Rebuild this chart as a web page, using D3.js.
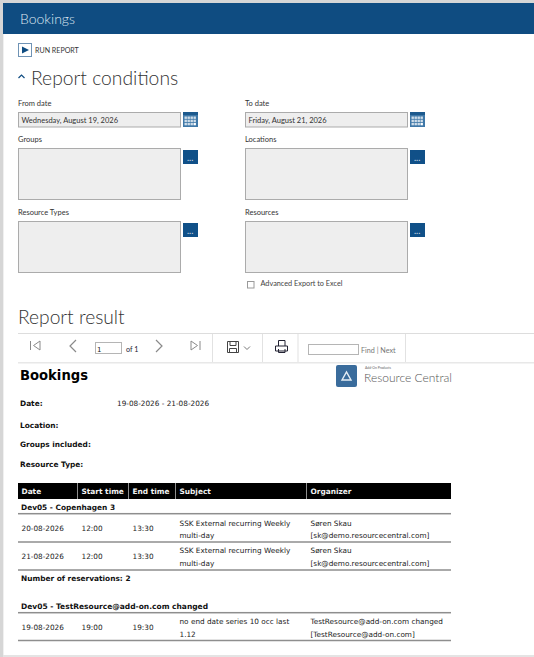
<!DOCTYPE html>
<html>
<head>
<meta charset="utf-8">
<script src="https://d3js.org/d3.v7.min.js"></script>
<style>
  html, body { margin: 0; padding: 0; background: #fff; }
  svg { display: block; }
  .ui { font-family: Lato, "Open Sans", sans-serif; }
  .rep { font-family: "DejaVu Sans", sans-serif; }
</style>
</head>
<body>
<div id="chart_box"></div>
<script>
// values
var pageTitle = "Bookings";
var dateLabels = ["From date", "To date"];
var dateValues = ["Wednesday, August 19, 2026", "Friday, August 21, 2026"];
var listLabels = ["Groups", "Locations", "Resource Types", "Resources"];
var tableColumns = ["Date", "Start time", "End time", "Subject", "Organizer"];
var metaLabels = ["Date:", "Location:", "Groups included:", "Resource Type:"];
var metaValues = ["19-08-2026 - 21-08-2026", "", "", ""];
var group1 = "Dev05 - Copenhagen 3";
var group1Rows = [
    ["20-08-2026", "12:00", "13:30", ["SSK External recurring Weekly", "multi-day"], ["Søren Skau", "[sk@demo.resourcecentral.com]"]],
    ["21-08-2026", "12:00", "13:30", ["SSK External recurring Weekly", "multi-day"], ["Søren Skau", "[sk@demo.resourcecentral.com]"]]
];
var group1Count = "Number of reservations: 2";
var group2 = "Dev05 - TestResource@add-on.com changed";
var group2Rows = [
    ["19-08-2026", "19:00", "19:30", ["no end date series 10 occ last", "1.12"], ["TestResource@add-on.com changed", "[TestResource@add-on.com]"]]
];

var width = 534, height = 657;
var navy = "#0f4c81", blue = "#105088", border = "#ababab", field = "#eeeeee", ink = "#222222";
var repSize = 7.3, repBold = 7.4, uiSize = 7.5;

var svg = d3.select("#chart_box").append("svg")
    .attr("width", width)
    .attr("height", height);

function rect(x, y, w, h, fill, stroke) {
    return svg.append("rect")
        .attr("x", x).attr("y", y).attr("width", w).attr("height", h)
        .attr("fill", fill).attr("stroke", stroke || "none");
}

function label(x, y, str, size, cls, color, weight) {
    return svg.append("text")
        .attr("class", cls)
        .attr("x", x).attr("y", y)
        .attr("font-size", size)
        .attr("font-weight", weight || 400)
        .attr("fill", color || ink)
        .text(str);
}

function path(d, stroke, sw, fill) {
    return svg.append("path")
        .attr("d", d)
        .attr("stroke", stroke || "none")
        .attr("stroke-width", sw || 1)
        .attr("fill", fill || "none");
}

// frame + header band
rect(0, 0, width, height, "#ffffff");
rect(0, 0, width, 3, "#d6d6d6");
rect(0, 0, 3, height, "#d6d6d6");
rect(3, 3, 1, height, "#f0f0f0");
rect(3, 655, width, 2, "#e4e4e4");
rect(3, 3, width, 31, navy);
label(20, 23.5, pageTitle, 14, "ui", "#dfe8f1").attr("font-weight", 300);

// run report
rect(18.5, 43.5, 13, 13, "#fff", "#6f93b5");
path("M22,46.5L29,50L22,53.5Z", null, 0, navy);
label(35, 53, "RUN REPORT", 7.1, "ui", "#333");

// report conditions
path("M18.5,78L21.5,75L24.5,78", navy, 1.2);
label(31, 84.5, "Report conditions", 19.3, "ui", "#333").attr("font-weight", 300);

// form columns and rows
var formX = d3.scaleOrdinal().domain([0, 1]).range([18, 245]);
var fieldW = 162;

function calendar(x, y) {
    rect(x, y, 15, 15, "#3f78a8");
    rect(x, y, 15, 3, "#1d5a8e");
    d3.range(3).forEach(function (r) {
        d3.range(4).forEach(function (c) {
            rect(x + 1.5 + c * 3, y + 4.5 + r * 3.2, 2.4, 2.4, (r === 2 && c === 3) ? "#fff" : "#cfdde9");
        });
    });
}

function dotsButton(x, y) {
    rect(x, y, 15, 14, blue);
    label(x + 4, y + 10.5, "...", 9, "ui", "#d0dde9");
}

dateLabels.forEach(function (d, i) {
    label(formX(i), 106, d, uiSize, "ui", "#333");
    rect(formX(i) + 0.5, 112.5, fieldW, 14.5, field, border);
    label(formX(i) + 3.5, 123, dateValues[i], 7.5, "ui", "#333");
    calendar(formX(i) + 165, 112);
});

var listY = d3.scaleOrdinal().domain([0, 1]).range([148.5, 221.5]);
listLabels.forEach(function (d, i) {
    var col = i % 2, row = Math.floor(i / 2);
    label(formX(col), listY(row) - 6.5, d, uiSize, "ui", "#333");
    rect(formX(col) + 0.5, listY(row), fieldW, 51, field, border);
    dotsButton(formX(col) + 165, listY(row) + 1.5);
});

// advanced export checkbox
rect(247.5, 281.5, 6.5, 6.5, "#fff", "#9a9a9a");
label(260.5, 286, "Advanced Export to Excel", 7.3, "ui", "#444");

// report result + toolbar
label(18, 324, "Report result", 19.2, "ui", "#333").attr("font-weight", 300);
rect(18, 333, width - 18, 1, "#dddddd");
rect(18, 362, width - 18, 1.5, "#e8e8e8");
[212, 262, 297.5, 405].forEach(function (x) {
    rect(x, 334, 1, 28, "#e2e2e2");
});
var iconGray = "#8a8a8a";
path("M30.5,341V350M40,341L33.5,345.5L40,350Z", iconGray, 1);
path("M76,340L70,346L76,352", iconGray, 1.2);
rect(95.5, 342.5, 26, 11, "#fff", "#b5b5b5");
label(97, 351.5, "1", 7, "rep", "#222");
label(126, 352, "of 1", 7.2, "ui", "#223");
path("M156,340L162,346L156,352", iconGray, 1.2);
path("M191,341L197.5,345.5L191,350ZM200,341V350", iconGray, 1);
path("M227.5,341.5H238.5V352.5H227.5ZM230,341.5V345.5H236V341.5M229.5,352.5V348.5H236.5V352.5", "#444", 1);
path("M244,346.5L247,349.5L250,346.5", "#777", 1);
path("M278.5,346V340.5H285V346M275.5,346H287.5V351H275.5ZM278.5,349V352.5H285V349", "#223", 1);
rect(308.5, 344.5, 50, 10, "#fff", "#b5b5b5");
label(361, 353, "Find | Next", 7.2, "ui", "#777");

// report heading + logo
label(20, 380, pageTitle, 14.5, "rep", "#000", 700)
    .attr("textLength", 68).attr("lengthAdjust", "spacingAndGlyphs");
rect(336, 365, 21, 22, "#3a6c9c").attr("rx", 2);
path("M342,380L346.5,372L351,380Z", "#e6eef5", 1.4);
label(365, 369.3, "Add-On Products", 3.4, "ui", "#666");
label(364, 382, "Resource Central", 12, "ui", "#555").attr("font-weight", 300);

// report meta block
var metaY = d3.scaleOrdinal().domain(d3.range(4)).range([406, 428, 447, 467]);
metaLabels.forEach(function (d, i) {
    label(20, metaY(i), d, repBold, "rep", "#111", 700);
    label(117, metaY(i), metaValues[i], repSize, "rep", "#222");
});

// table
var colX = d3.scaleOrdinal().domain(d3.range(5)).range([18, 78, 129, 176, 307]);
var tableRight = 451;
rect(18, 483, tableRight - 18, 16, "#000");
tableColumns.forEach(function (d, i) {
    if (i > 0) rect(colX(i) - 1, 483, 1, 16, "#8f8f8f");
    label(colX(i) + 3.5, 494, d, repBold, "rep", "#f2f2f2", 700);
});

function rule(y) {
    rect(18, y - 0.75, tableRight - 18, 1.5, "#8e8e8e");
}

function drawRow(row, top) {
    // top = y of first text line baseline
    [0, 1, 2].forEach(function (i) {
        label(colX(i) + 3.5, top + 5.5, row[i], repSize, "rep", "#222");
    });
    [3, 4].forEach(function (i) {
        row[i].forEach(function (line, j) {
            label(colX(i) + 3.5, top + j * 12.5, line, repSize, "rep", "#222");
        });
    });
}

label(21, 510, group1, repBold, "rep", "#111", 700);
rule(513.7);
group1Rows.forEach(function (row, i) {
    drawRow(row, 525.5 + i * 27.5);
    rule(542 + i * 28);
});
label(21, 581, group1Count, repBold, "rep", "#111", 700);

label(21, 609, group2, repBold + 0.1, "rep", "#111", 700);
rule(612.7);
group2Rows.forEach(function (row) {
    drawRow(row, 624);
    rule(640.5);
});
</script>
</body>
</html>
